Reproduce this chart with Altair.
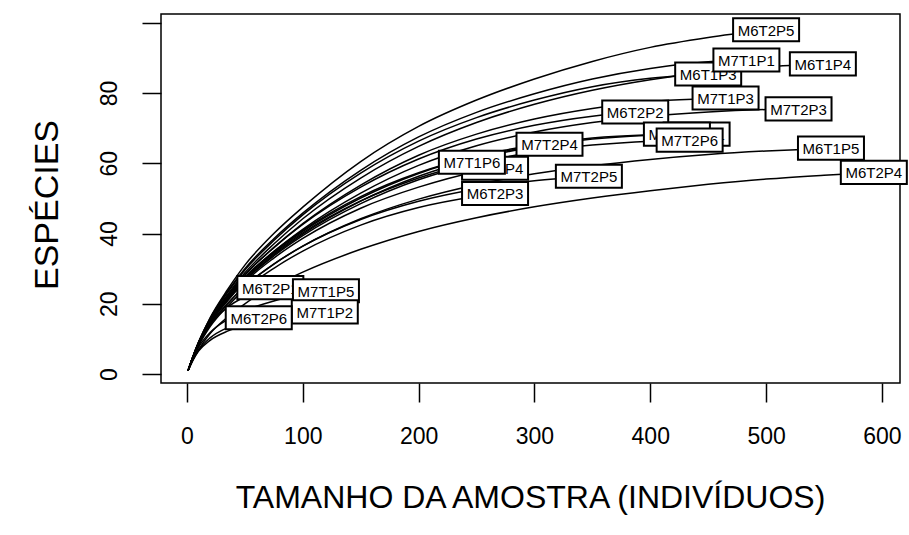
import altair as alt
import pandas as pd

# Sample-size grid at which the curves were read
GRID = [1, 5, 10, 20, 35, 50, 75, 100, 150, 200, 250, 300, 350, 400, 450, 500, 550]

SAMPLES = ["M6T2P5", "M6T1P3", "M7T1P1", "M6T1P4", "M7T1P3", "M7T2P3", "M6T2P2",
           "M7T2P1", "M6T1P1", "M7T2P6", "M7T2P4", "M7T1P4", "M7T1P6", "M6T2P3",
           "M7T2P5", "M6T1P5", "M6T2P4", "M6T2P1", "M7T1P5", "M7T1P2", "M6T2P6"]
END_N = [500, 450, 483, 549, 465, 528, 387, 440, 423, 434, 313, 266, 246, 266,
         347, 556, 593, 72, 120, 119, 62]
END_S = [98, 85.4, 89.4, 88.3, 78.6, 75.5, 74.6, 68.3, 68.3, 66.6, 65.4, 58.6, 60.3, 51.4,
         56.3, 64.3, 57.4, 24.6, 23.7, 17.7, 16]

M6T2P5 = [1, 4.8, 9, 16, 24, 31, 40, 47.5, 60.5, 70.5, 78, 84, 89, 93, 95.8]
M6T1P3 = [1, 4.8, 9, 15.7, 23.2, 29.6, 38, 45.3, 57.2, 66.3, 73, 78, 81.8, 84.2]
M7T1P1 = [1, 4.8, 9, 15.8, 23.5, 30, 38.5, 45.8, 58, 67.5, 74.5, 79.8, 84, 87, 88.9]
M6T1P4 = [1, 4.7, 8.8, 15.3, 22.6, 28.8, 37, 44.2, 55.8, 64.8, 71.6, 76.8, 80.8, 83.8, 86, 87.5]
M7T1P3 = [1, 4.7, 8.8, 15.1, 22.2, 28.2, 36, 42.8, 53.8, 62.3, 68.3, 72.6, 75.6, 77.6, 78.4]
M7T2P3 = [1, 4.7, 8.7, 14.9, 21.8, 27.5, 34.9, 41.2, 51.5, 59.4, 65, 68.9, 71.6, 73.4, 74.6, 75.3]
M6T2P2 = [1, 4.7, 8.8, 15.1, 22.2, 28.2, 36, 42.6, 53.2, 61.2, 66.9, 70.8, 73.4]
M7T2P1 = [1, 4.7, 8.6, 14.6, 21.2, 26.8, 33.9, 39.8, 49.2, 56.3, 61.3, 64.7, 66.9, 68.0]
M6T1P1 = [1, 4.7, 8.7, 14.8, 21.6, 27.3, 34.6, 40.6, 50.1, 57.1, 62, 65.2, 67.2, 68.1]
M7T2P6 = [1, 4.7, 8.6, 14.6, 21.1, 26.6, 33.6, 39.4, 48.5, 55.3, 60, 63.2, 65.2, 66.3]
M7T2P4 = [1, 4.7, 8.7, 14.9, 21.8, 27.5, 34.8, 40.9, 50.5, 57.3, 61.9, 64.8]
M7T1P4 = [1, 4.6, 8.5, 14.4, 20.8, 26.2, 33, 38.6, 47.2, 53.2, 57.6]
M7T1P6 = [1, 4.7, 8.7, 14.8, 21.6, 27.2, 34.3, 40.2, 49.3, 55.8]
M6T2P3 = [1, 4.4, 8, 13.5, 19.3, 24.1, 30.1, 35, 42.4, 47.4, 50.6]
M7T2P5 = [1, 4.5, 8.3, 14, 20, 25, 31.3, 36.4, 44, 49.2, 52.7, 55]
M6T1P5 = [1, 4.5, 8.3, 14, 20, 25, 31.3, 36.4, 44.2, 49.8, 53.9, 57, 59.3, 61.1, 62.5, 63.5, 64.2]
M6T2P4 = [1, 3.9, 6.9, 11.5, 16.2, 20, 25, 29, 35.5, 40.6, 44.5, 47.6, 50.1, 52.2, 54, 55.5, 56.6]
M6T2P1 = [1, 4.7, 8.6, 14.2, 19, 22]
M7T1P5 = [1, 4.3, 7.6, 11.8, 15.5, 18, 20.8, 22.6]
M7T1P2 = [1, 3.8, 6.5, 9.6, 12.2, 13.9, 15.7, 16.9]
M6T2P6 = [1, 4, 6.8, 10.3, 13.2, 14.9]

SERIES = [M6T2P5, M6T1P3, M7T1P1, M6T1P4, M7T1P3, M7T2P3, M6T2P2, M7T2P1, M6T1P1,
          M7T2P6, M7T2P4, M7T1P4, M7T1P6, M6T2P3, M7T2P5, M6T1P5, M6T2P4, M6T2P1,
          M7T1P5, M7T1P2, M6T2P6]

X_TICKS = [0, 100, 200, 300, 400, 500, 600]
Y_TICKS = [0, 20, 40, 60, 80, 100]

rows = []
for name, vals, en, es in zip(SAMPLES, SERIES, END_N, END_S):
    for n, s in zip(GRID, vals):
        rows.append({"sample": name, "n": n, "s": s})
    rows.append({"sample": name, "n": en, "s": es})
lines_df = pd.DataFrame(rows)

labels_df = pd.DataFrame({"sample": SAMPLES, "n": END_N, "s": END_S,
                          "k": list(range(len(SAMPLES)))})

FONT = "Liberation Sans"
xscale = alt.Scale(domain=[-22.4, 615.6], nice=False, zero=False)
yscale = alt.Scale(domain=[-2.56, 102.5], nice=False, zero=False)

xaxis = alt.Axis(
    values=X_TICKS, domain=False, grid=False, ticks=True, tickSize=19,
    tickWidth=1.5, tickColor="black", labelFont=FONT, labelFontSize=23,
    labelColor="black", labelPadding=23, labelFlush=False, labelOverlap=False,
    title="TAMANHO DA AMOSTRA (INDIVÍDUOS)", titleFont=FONT, titleFontSize=32,
    titleFontWeight="normal", titleColor="black", titleX=369, titleY=114,
    titleAlign="center", titleBaseline="middle")
yaxis = alt.Axis(
    values=Y_TICKS, domain=False, grid=False, ticks=True, tickSize=19,
    tickWidth=1.5, tickColor="black", labelFont=FONT, labelFontSize=23,
    labelColor="black", labelPadding=21, labelAngle=270, labelAlign="center",
    labelBaseline="bottom", labelFlush=False, labelOverlap=False,
    labelExpr="datum.value == 100 ? '' : datum.label",
    title="ESPÉCIES", titleFont=FONT, titleFontSize=34, titleFontWeight="normal",
    titleColor="black", titleAngle=270, titleX=-114, titleY=190.5,
    titleAlign="center", titleBaseline="middle")

X = alt.X("n:Q", scale=xscale, axis=xaxis)
Y = alt.Y("s:Q", scale=yscale, axis=yaxis)

lines = alt.Chart(lines_df).mark_line(
    color="black", strokeWidth=1.5, interpolate="monotone"
).encode(x=X, y=Y, detail="sample:N", order="n:Q")

BOX = "M-1,-0.35L1,-0.35L1,0.35L-1,0.35Z"
layers = [lines]
for i, name in enumerate(SAMPLES):
    base = alt.Chart(labels_df).transform_filter(alt.datum.k == i)
    box = base.mark_point(shape=BOX, size=66 * 66, filled=True, fill="white",
                          stroke="black", strokeWidth=2, opacity=1).encode(x=X, y=Y)
    txt = base.mark_text(font=FONT, fontSize=15, color="black", align="center",
                         baseline="middle", dy=1).encode(x=X, y=Y, text="sample:N")
    layers += [box, txt]

chart = alt.layer(*layers).properties(
    width=739, height=369,
    padding={"left": 161, "top": 14, "right": 9, "bottom": 152},
    autosize="none", background="white",
).configure_view(stroke="black", strokeWidth=1.5)

chart.save("out.html", embed_options={"renderer": "svg", "actions": False})
